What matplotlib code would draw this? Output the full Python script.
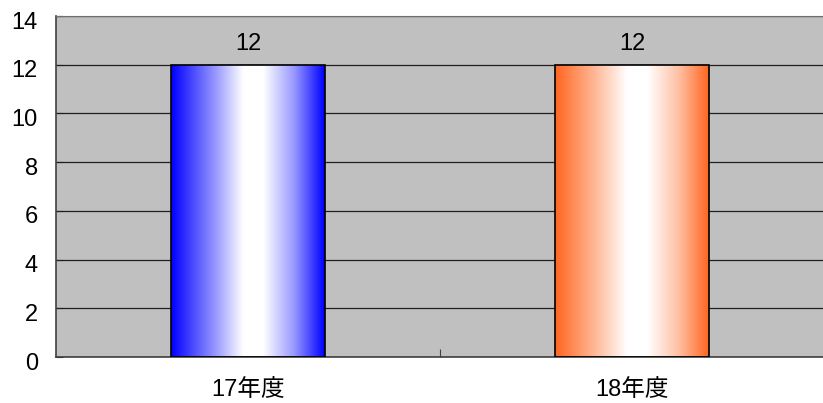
import numpy as np
import matplotlib.pyplot as plt
import matplotlib.transforms as mtransforms
from matplotlib.colors import LinearSegmentedColormap
from matplotlib.patches import Rectangle

plt.rcParams['font.family'] = ['Liberation Sans', 'Noto Sans CJK JP', 'DejaVu Sans']

categories = ['17年度', '18年度']
values = [12, 12]
edge_colors = ['#0000ff', '#ff6620']
y_ticks = [0, 2, 4, 6, 8, 10, 12, 14]

fig = plt.figure(figsize=(8.23, 4.03), dpi=100)
ax = fig.add_axes([56 / 823, 1 - 357 / 403, 768 / 823, 341 / 403])
ax.set_facecolor('#c0c0c0')

x = np.arange(len(categories))
bar_w = 0.4
bars = ax.bar(x, values, width=bar_w, color='none', edgecolor='black', linewidth=1.2, zorder=3)

# horizontal fill: colour at the edges, a broad white band a little right of centre
grad = np.interp(np.linspace(0, 1, 256), [0, 0.3, 0.47, 0.6, 0.8, 1],
                 [0, 0.62, 1, 1, 0.6, 0])
for bar, col, val in zip(bars, edge_colors, values):
    cmap = LinearSegmentedColormap.from_list('g', [col, 'white'])
    bx, by = bar.get_x(), bar.get_y()
    bw, bh = bar.get_width(), bar.get_height()
    im = ax.imshow(grad[np.newaxis, :], cmap=cmap, vmin=0, vmax=1, aspect='auto',
                   extent=[bx, bx + bw, by, by + bh], zorder=2, interpolation='bilinear')
    im.set_clip_path(Rectangle((bx, by), bw, bh, transform=ax.transData))
    ax.text(bx + bw / 2, bh + 0.4, f'{val}', ha='center', va='bottom', fontsize=17)

ax.set_xlim(-0.5, len(categories) - 0.5)
ax.set_ylim(0, 14)
ax.set_yticks(y_ticks)
ax.yaxis.grid(True, color='#202020', linewidth=0.9)
ax.set_axisbelow(True)

ax.set_xticks([0.5])
ax.set_xticklabels([''])
ax.tick_params(axis='x', direction='in', length=6, color='#404040')
for xi, label in zip(x, categories):
    ax.text(xi, -0.9, label, ha='center', va='top', fontsize=17)

ax.tick_params(axis='y', direction='in', length=5, labelsize=17, pad=13, color='#202020')
# y labels sit a few pixels below their gridlines
shift = mtransforms.ScaledTranslation(0, -4 / 100, fig.dpi_scale_trans)
for lbl in ax.get_yticklabels():
    lbl.set_transform(lbl.get_transform() + shift)

for side in ['left', 'bottom']:
    ax.spines[side].set_color('#404040')
    ax.spines[side].set_linewidth(1.2)
ax.spines['top'].set_color('#707070')
ax.spines['right'].set_visible(False)

fig.savefig('out.png', dpi=100)
